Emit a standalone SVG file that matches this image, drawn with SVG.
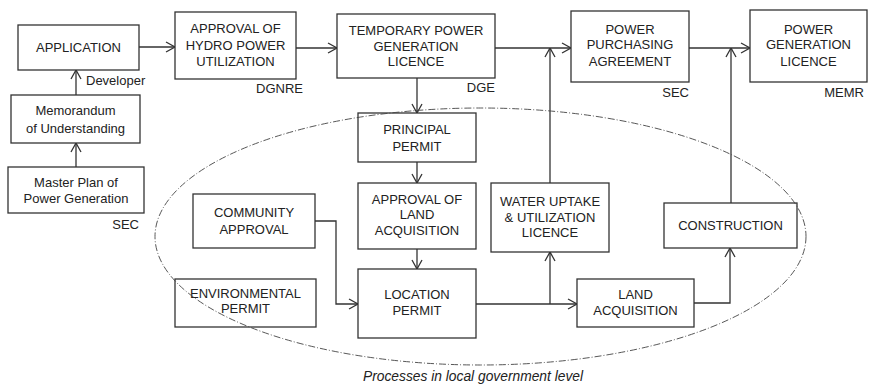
<svg xmlns="http://www.w3.org/2000/svg" width="869" height="385" viewBox="0 0 869 385">
<style>
.box{fill:#fff;stroke:#333;stroke-width:1.3}
text{font-family:"Liberation Sans",Arial,Helvetica,sans-serif;font-size:13px;fill:#222}
.c{text-anchor:middle}
.e{text-anchor:end}
.cap{font-style:italic;font-size:13.8px}
.ln{fill:none;stroke:#333;stroke-width:1.3}
.ell{fill:none;stroke:#444;stroke-width:0.9;stroke-dasharray:7 2 1 2}
</style>
<defs>
<marker id="ah" viewBox="0 0 10 12" refX="10" refY="6" markerWidth="10" markerHeight="12" markerUnits="userSpaceOnUse" orient="auto">
<path d="M1,1 L10,6 L1,11" fill="none" stroke="#333" stroke-width="1.3"/>
</marker>
</defs>
<rect width="869" height="385" fill="#fff"/>
<g id="connectors">
<path class="ln" d="M139,47 H175" marker-end="url(#ah)"/>
<path class="ln" d="M296,48 H337" marker-end="url(#ah)"/>
<path class="ln" d="M495,48 H571" marker-end="url(#ah)"/>
<path class="ln" d="M689,48 H750" marker-end="url(#ah)"/>
<path class="ln" d="M76,95 V70" marker-end="url(#ah)"/>
<path class="ln" d="M76,167 V143" marker-end="url(#ah)"/>
<path class="ln" d="M417,78 V113" marker-end="url(#ah)"/>
<path class="ln" d="M417,162 V183" marker-end="url(#ah)"/>
<path class="ln" d="M417,249 V269" marker-end="url(#ah)"/>
<path class="ln" d="M315,221 H336 V304 H358" marker-end="url(#ah)"/>
<path class="ln" d="M476,304 H577" marker-end="url(#ah)"/>
<path class="ln" d="M550,304 V252" marker-end="url(#ah)"/>
<path class="ln" d="M550,183 V48" marker-end="url(#ah)"/>
<path class="ln" d="M694,303 H730 V248" marker-end="url(#ah)"/>
<path class="ln" d="M731,203 V48" marker-end="url(#ah)"/>
</g>
<g id="application">
<rect class="box" x="18" y="25" width="121" height="45"/>
<text class="c" x="78.5" y="52">APPLICATION</text>
</g>
<g id="developer-label"><text x="86" y="85">Developer</text></g>
<g id="mou">
<rect class="box" x="11" y="95" width="129" height="48"/>
<text class="c" x="75.5" y="115">Memorandum</text>
<text class="c" x="75.5" y="133">of Understanding</text>
</g>
<g id="master-plan">
<rect class="box" x="8" y="167" width="136" height="46"/>
<text class="c" x="76" y="187">Master Plan of</text>
<text class="c" x="76" y="203">Power Generation</text>
<text class="e" x="139" y="229">SEC</text>
</g>
<g id="approval-hydro">
<rect class="box" x="175" y="12" width="121" height="67"/>
<text class="c" x="235.5" y="33">APPROVAL OF</text>
<text class="c" x="235.5" y="50">HYDRO POWER</text>
<text class="c" x="235.5" y="66">UTILIZATION</text>
<text class="e" x="303" y="93">DGNRE</text>
</g>
<g id="temporary">
<rect class="box" x="337" y="14" width="158" height="64"/>
<text class="c" x="416" y="35">TEMPORARY POWER</text>
<text class="c" x="416" y="51">GENERATION</text>
<text class="c" x="416" y="66">LICENCE</text>
<text class="e" x="495" y="92">DGE</text>
</g>
<g id="ppa">
<rect class="box" x="571" y="11" width="118" height="71"/>
<text class="c" x="630" y="34">POWER</text>
<text class="c" x="630" y="49">PURCHASING</text>
<text class="c" x="630" y="66">AGREEMENT</text>
<text class="e" x="689" y="97">SEC</text>
</g>
<g id="pgl">
<rect class="box" x="750" y="10" width="117" height="72"/>
<text class="c" x="808.5" y="34">POWER</text>
<text class="c" x="808.5" y="49">GENERATION</text>
<text class="c" x="808.5" y="66">LICENCE</text>
<text class="e" x="864" y="97">MEMR</text>
</g>
<g id="principal">
<rect class="box" x="358" y="113" width="118" height="49"/>
<text class="c" x="417" y="134">PRINCIPAL</text>
<text class="c" x="417" y="151">PERMIT</text>
</g>
<g id="approval-land">
<rect class="box" x="358" y="183" width="118" height="66"/>
<text class="c" x="417" y="204">APPROVAL OF</text>
<text class="c" x="417" y="219">LAND</text>
<text class="c" x="417" y="235">ACQUISITION</text>
</g>
<g id="community">
<rect class="box" x="193" y="194" width="122" height="54"/>
<text class="c" x="254" y="217">COMMUNITY</text>
<text class="c" x="254" y="234">APPROVAL</text>
</g>
<g id="environmental">
<rect class="box" x="175" y="279" width="141" height="48"/>
<text class="c" x="245.5" y="298">ENVIRONMENTAL</text>
<text class="c" x="245.5" y="313">PERMIT</text>
</g>
<g id="location">
<rect class="box" x="358" y="269" width="118" height="69"/>
<text class="c" x="417" y="299">LOCATION</text>
<text class="c" x="417" y="315">PERMIT</text>
</g>
<g id="water">
<rect class="box" x="491" y="183" width="118" height="69"/>
<text class="c" x="550" y="206">WATER UPTAKE</text>
<text class="c" x="550" y="222">&amp; UTILIZATION</text>
<text class="c" x="550" y="237">LICENCE</text>
</g>
<g id="land">
<rect class="box" x="577" y="279" width="117" height="48"/>
<text class="c" x="635.5" y="299">LAND</text>
<text class="c" x="635.5" y="315">ACQUISITION</text>
</g>
<g id="construction">
<rect class="box" x="664" y="203" width="133" height="45"/>
<text class="c" x="730.5" y="230">CONSTRUCTION</text>
</g>
<g id="local-government-boundary">
<ellipse class="ell" cx="480.5" cy="236.5" rx="325.5" ry="128.5"/>
<text class="c cap" x="473" y="381">Processes in local government level</text>
</g>
</svg>
